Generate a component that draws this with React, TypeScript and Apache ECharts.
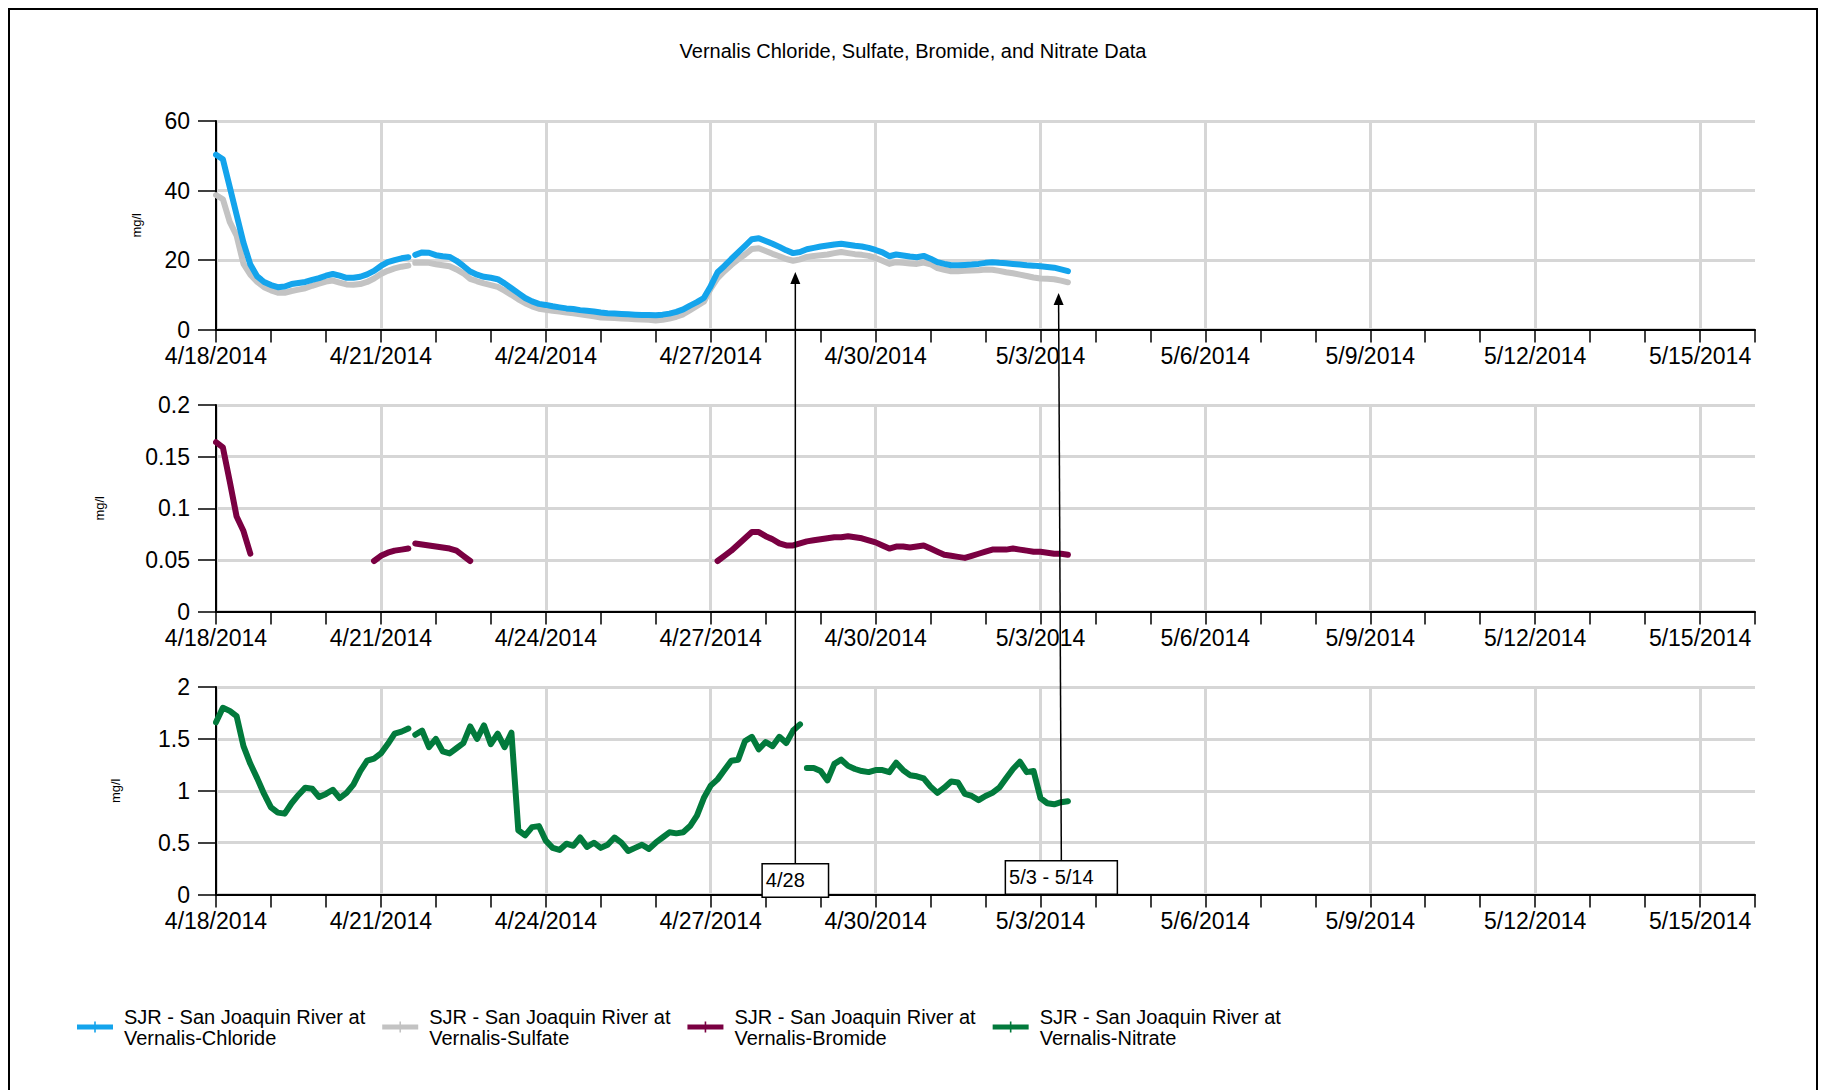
import React, { useEffect, useRef } from "react";
import * as echarts from "echarts";

// ---- time base: values are sampled every 3 hours from 4/18/2014 00:00 ----
const START_YEAR = 2014;
const START_MONTH = 3; // April (0-based)
const START_DAY = 18;
const STEP_DAYS = 0.125;
const AXIS_DAYS = 28; // 4/18 .. 5/16
const LABEL_EVERY = 3;

const TITLE = "Vernalis Chloride, Sulfate, Bromide, and Nitrate Data";
const Y_NAME = "mg/l";

const seriesNames = [
  "SJR - San Joaquin River at\nVernalis-Chloride",
  "SJR - San Joaquin River at\nVernalis-Sulfate",
  "SJR - San Joaquin River at\nVernalis-Bromide",
  "SJR - San Joaquin River at\nVernalis-Nitrate",
];
const seriesColors = ["#14A4EC", "#C3C3C3", "#7A0042", "#027A3C"];

// mg/l, every 3 hours
const chloride = [
  50.3, 49.0, 41.0, 33.0, 25.0, 18.7, 15.3, 13.7,
  12.8, 12.2, 12.4, 13.1, 13.4, 13.7, 14.3, 14.8,
  15.5, 16.0, 15.5, 14.9, 14.9, 15.2, 15.9, 16.9,
  18.3, 19.4, 20.0, 20.5, 20.8, 21.5, 22.2, 22.1,
  21.4, 21.1, 20.9, 19.8, 18.3, 16.7, 15.8, 15.2,
  14.9, 14.5, 13.3, 11.9, 10.5, 9.1, 8.1, 7.4,
  7.1, 6.7, 6.4, 6.1, 5.9, 5.6, 5.4, 5.2,
  4.9, 4.7, 4.6, 4.5, 4.4, 4.3, 4.2, 4.2,
  4.1, 4.3, 4.6, 5.1, 5.8, 6.9, 7.9, 9.1,
  12.5, 16.5, 18.3, 20.3, 22.2, 24.1, 26.0, 26.3,
  25.5, 24.7, 23.8, 22.8, 22.0, 22.3, 23.1, 23.5,
  23.9, 24.2, 24.5, 24.7, 24.4, 24.1, 23.9, 23.5,
  22.9, 22.2, 21.1, 21.6, 21.3, 21.0, 20.8, 21.2,
  20.4, 19.4, 18.9, 18.5, 18.5, 18.6, 18.7, 18.9,
  19.2, 19.4, 19.2, 19.1, 18.9, 18.7, 18.5, 18.4,
  18.2, 18.0, 17.8, 17.3, 16.8,
];
const sulfate = [
  38.7, 37.5, 31.0, 27.0, 18.9, 15.8, 13.7, 12.2,
  11.3, 10.6, 10.6, 11.1, 11.5, 11.9, 12.6, 13.2,
  13.8, 14.1, 13.5, 13.0, 12.9, 13.1, 13.7, 14.7,
  16.0, 16.9, 17.6, 18.1, 18.4, 19.2, 19.3, 19.2,
  18.8, 18.5, 18.2, 17.3, 16.2, 14.6, 13.9, 13.3,
  12.8, 12.3, 11.2, 10.0, 8.7, 7.6, 6.7, 6.0,
  5.7, 5.4, 5.2, 4.9, 4.7, 4.4, 4.1, 3.8,
  3.5, 3.4, 3.3, 3.2, 3.1, 3.0, 2.9, 2.8,
  2.6, 2.8, 3.2, 3.7, 4.4, 5.6, 6.8, 8.0,
  11.8, 14.8, 16.8, 18.6, 20.2, 21.6, 23.2, 23.4,
  22.6, 21.8, 21.1, 20.3, 19.8, 20.2, 20.9, 21.2,
  21.4, 21.6, 22.0, 22.3, 22.0, 21.7, 21.5, 21.2,
  20.6, 19.8, 18.9, 19.4, 19.2, 19.0, 18.9, 19.3,
  18.8, 17.7, 17.2, 16.8, 16.8, 16.9, 17.0, 17.1,
  17.3, 17.2, 16.9, 16.5, 16.2, 15.8, 15.4, 15.0,
  14.7, 14.6, 14.5, 14.1, 13.6,
];
const bromide = [
  0.164, 0.159, 0.126, 0.092, 0.078, 0.056, null, null,
  null, null, null, null, null, null, null, null,
  null, null, null, null, null, null, null, 0.049,
  0.054, 0.057, 0.059, 0.060, 0.061, 0.066, 0.065, 0.064,
  0.063, 0.062, 0.061, 0.059, 0.054, 0.049, null, null,
  null, null, null, null, null, null, null, null,
  null, null, null, null, null, null, null, null,
  null, null, null, null, null, null, null, null,
  null, null, null, null, null, null, null, null,
  null, 0.049, 0.054, 0.059, 0.065, 0.071, 0.077, 0.077,
  0.073, 0.070, 0.066, 0.064, 0.064, 0.066, 0.068, 0.069,
  0.070, 0.071, 0.072, 0.072, 0.073, 0.072, 0.071, 0.069,
  0.067, 0.064, 0.061, 0.063, 0.063, 0.062, 0.063, 0.064,
  0.061, 0.058, 0.055, 0.054, 0.053, 0.052, 0.054, 0.056,
  0.058, 0.060, 0.060, 0.060, 0.061, 0.060, 0.059, 0.058,
  0.058, 0.057, 0.056, 0.056, 0.055,
];
const nitrate = [
  1.66, 1.80, 1.77, 1.72, 1.43, 1.26, 1.12, 0.97,
  0.84, 0.79, 0.78, 0.88, 0.96, 1.03, 1.02, 0.94,
  0.97, 1.01, 0.93, 0.98, 1.06, 1.19, 1.29, 1.31,
  1.36, 1.45, 1.55, 1.57, 1.60, 1.54, 1.58, 1.42,
  1.50, 1.38, 1.36, 1.41, 1.46, 1.62, 1.50, 1.63,
  1.45, 1.55, 1.42, 1.56, 0.62, 0.57, 0.65, 0.66,
  0.52, 0.45, 0.43, 0.49, 0.47, 0.55, 0.46, 0.50,
  0.45, 0.48, 0.55, 0.50, 0.42, 0.45, 0.48, 0.44,
  0.50, 0.55, 0.60, 0.59, 0.60, 0.66, 0.76, 0.93,
  1.05, 1.11, 1.20, 1.29, 1.30, 1.48, 1.52, 1.40,
  1.47, 1.43, 1.52, 1.46, 1.58, 1.64, 1.22, 1.22,
  1.19, 1.10, 1.26, 1.30, 1.24, 1.21, 1.19, 1.18,
  1.20, 1.20, 1.18, 1.27, 1.20, 1.15, 1.14, 1.12,
  1.04, 0.98, 1.03, 1.09, 1.08, 0.97, 0.95, 0.91,
  0.95, 0.98, 1.03, 1.12, 1.21, 1.28, 1.18, 1.19,
  0.93, 0.88, 0.87, 0.89, 0.90,
];

// data gaps (days after 4/18 00:00)
const chlorideBreaks = [3.56];
const sulfateBreaks = [3.56];
const bromideBreaks = [3.56];
const nitrateBreaks = [3.56, 10.69];

// y scales
const topAxis = { min: 0, max: 60, interval: 20 };
const midAxis = { min: 0, max: 0.2, interval: 0.05 };
const botAxis = { min: 0, max: 2, interval: 0.5 };

// annotations: day position, box top (bottom panel value), arrow tip (top panel)
const annotations = [
  { label: "4/28", day: 10.54, boxValue: 0.29, tipDay: 10.54, tipValue: 16.6 },
  { label: "5/3 - 5/14", day: 15.38, boxValue: 0.32, tipDay: 15.33, tipValue: 10.5 },
];

const FONT = "'Liberation Sans', Arial, sans-serif";

function toPairs(values: (number | null)[], breaks: number[]) {
  const out: any[] = [];
  values.forEach((v, i) => {
    const t = i * STEP_DAYS;
    const prev = (i - 1) * STEP_DAYS;
    breaks.forEach((b) => {
      if (b > prev && b < t) out.push([b, null]);
    });
    out.push([t, v]);
  });
  return out;
}

function dayLabel(v: number) {
  const d = Math.round(v);
  if (Math.abs(v - d) > 1e-6 || d % LABEL_EVERY !== 0 || d >= AXIS_DAYS) return "";
  const dt = new Date(START_YEAR, START_MONTH, START_DAY + d);
  return `${dt.getMonth() + 1}/${dt.getDate()}/${dt.getFullYear()}`;
}

const GRID_LEFT = 206;
const GRID_WIDTH = 1539;
const grids = [
  { top: 111, height: 208.6 },
  { top: 395, height: 206.6 },
  { top: 677, height: 207.6 },
];
const nameGaps = [73, 110, 94];

export default function App() {
  const ref = useRef<HTMLDivElement>(null);

  useEffect(() => {
    if (!ref.current) return;
    const chart = echarts.init(ref.current, undefined, { renderer: "svg" });

    const xAxes = grids.map((_, i) => ({
      type: "value",
      gridIndex: i,
      min: 0,
      max: AXIS_DAYS,
      interval: 1,
      axisLine: { show: true, onZero: false, lineStyle: { color: "#000", width: 2 } },
      axisTick: { show: true, length: 13, lineStyle: { color: "#000", width: 1.5 } },
      axisLabel: {
        show: true,
        formatter: dayLabel,
        fontSize: 23,
        color: "#000",
        margin: 15,
        fontFamily: FONT,
      },
      splitLine: {
        show: true,
        showMaxLine: false,
        lineStyle: { color: ["#D6D6D6", "rgba(0,0,0,0)", "rgba(0,0,0,0)"], width: 3 },
      },
    }));

    const yScales = [topAxis, midAxis, botAxis];
    const yAxes = yScales.map((s, i) => ({
      type: "value",
      gridIndex: i,
      min: s.min,
      max: s.max,
      interval: s.interval,
      name: Y_NAME,
      nameLocation: "middle",
      nameRotate: 90,
      nameGap: nameGaps[i],
      nameTextStyle: { fontSize: 13, color: "#000", fontFamily: FONT },
      axisLine: { show: true, lineStyle: { color: "#000", width: 2 } },
      axisTick: { show: true, length: 18, lineStyle: { color: "#000", width: 1.5 } },
      axisLabel: { fontSize: 23, color: "#000", margin: 26, fontFamily: FONT },
      splitLine: { show: true, lineStyle: { color: "#D6D6D6", width: 3 } },
    }));

    const lineSeries = (name: string, color: string, data: any[], idx: number, z: number) => ({
      name,
      type: "line",
      xAxisIndex: idx,
      yAxisIndex: idx,
      data,
      showSymbol: false,
      symbol: "none",
      connectNulls: false,
      z,
      lineStyle: { color, width: 6, join: "round", cap: "round" },
      itemStyle: { color },
    });

    const legendIcon = "path://M0,3 H36 V8 H0 Z M17.2,0 H18.8 V11 H17.2 Z";

    const option: any = {
      animation: false,
      textStyle: { fontFamily: FONT },
      title: {
        text: TITLE,
        left: "center",
        top: 31,
        padding: 0,
        textStyle: { fontSize: 20, fontWeight: "normal", color: "#000", fontFamily: FONT },
      },
      grid: grids.map((g) => ({
        left: GRID_LEFT,
        width: GRID_WIDTH,
        top: g.top,
        height: g.height,
        containLabel: false,
        outerBoundsMode: "none",
      })),
      xAxis: xAxes,
      yAxis: yAxes,
      legend: {
        show: true,
        left: 67,
        top: 996,
        orient: "horizontal",
        itemWidth: 36,
        itemHeight: 11,
        itemGap: 17,
        padding: 0,
        selectedMode: false,
        data: seriesNames.map((n) => ({ name: n, icon: legendIcon })),
        textStyle: { fontSize: 20, lineHeight: 21, color: "#000", fontFamily: FONT, padding: [0, 0, 0, 6] },
      },
      series: [
        lineSeries(seriesNames[1], seriesColors[1], toPairs(sulfate, sulfateBreaks), 0, 2),
        lineSeries(seriesNames[0], seriesColors[0], toPairs(chloride, chlorideBreaks), 0, 3),
        lineSeries(seriesNames[2], seriesColors[2], toPairs(bromide, bromideBreaks), 1, 2),
        lineSeries(seriesNames[3], seriesColors[3], toPairs(nitrate, nitrateBreaks), 2, 2),
      ],
    };

    chart.setOption(option);

    const graphics: any[] = [];
    annotations.forEach((a) => {
      const base = chart.convertToPixel({ gridIndex: 2 } as any, [a.day, a.boxValue]) as number[];
      const tip = chart.convertToPixel({ gridIndex: 0 } as any, [a.tipDay, a.tipValue]) as number[];
      graphics.push({
        type: "line",
        z: 100,
        shape: { x1: base[0], y1: base[1], x2: tip[0], y2: tip[1] + 8 },
        style: { stroke: "#000", lineWidth: 1.5 },
      });
      graphics.push({
        type: "polygon",
        z: 100,
        shape: {
          points: [
            [tip[0], tip[1]],
            [tip[0] - 5, tip[1] + 12],
            [tip[0] + 5, tip[1] + 12],
          ],
        },
        style: { fill: "#000" },
      });
      graphics.push({
        type: "text",
        z: 101,
        x: base[0],
        y: base[1],
        style: {
          text: a.label,
          fontSize: 20,
          fontFamily: FONT,
          fill: "#000",
          align: "center",
          verticalAlign: "top",
          padding: [6, 23, 6, 3],
          backgroundColor: "#fff",
          borderColor: "#000",
          borderWidth: 1.5,
        },
      });
    });
    chart.setOption({ graphic: graphics });

    return () => chart.dispose();
  }, []);

  return (
    <div
      style={{
        position: "fixed",
        left: 8,
        top: 8,
        width: 1810,
        height: 1082,
        boxSizing: "border-box",
        borderLeft: "2px solid #000",
        borderRight: "2px solid #000",
        borderTop: "2px solid #000",
        background: "#fff",
      }}
    >
      <div ref={ref} style={{ width: 1806, height: 1080 }} />
    </div>
  );
}
